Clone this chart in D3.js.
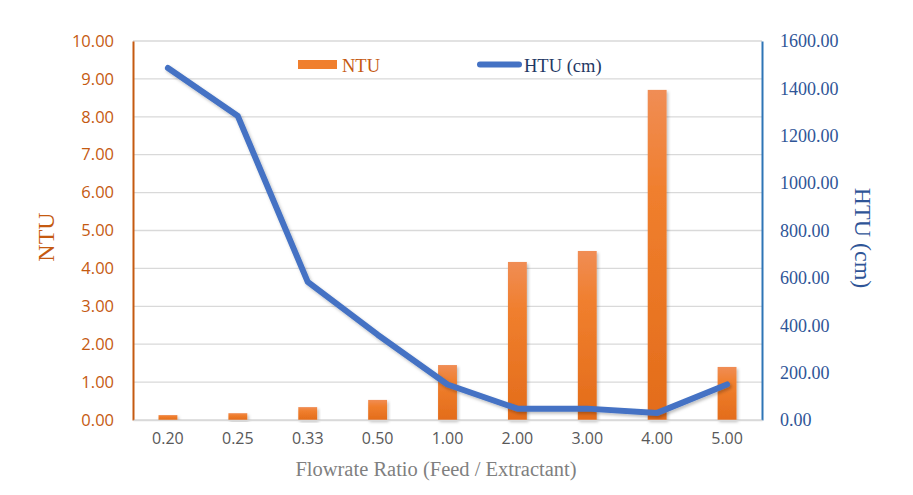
<!doctype html>
<html>
  <head>
    <script src="https://cdnjs.cloudflare.com/ajax/libs/d3/7.8.5/d3.min.js"></script>
    <style>
      body { margin: 0; background: #fff; }
      svg { display: block; }
    </style>
  </head>
  <body>
    <svg id="chart" width="913" height="495"></svg>
    <script>
      var ratios = ["0.20", "0.25", "0.33", "0.50", "1.00", "2.00", "3.00", "4.00", "5.00"];
      var ntu = [0.13, 0.18, 0.34, 0.53, 1.45, 4.17, 4.46, 8.71, 1.40];
      var htu = [1486, 1283, 583, 360, 150, 48, 48, 30, 150];
      var ntuTicks = [0, 1, 2, 3, 4, 5, 6, 7, 8, 9, 10];
      var htuTicks = [0, 200, 400, 600, 800, 1000, 1200, 1400, 1600];

      var plotLeft = 133, plotRight = 762, plotTop = 41, plotBottom = 420;
      var serif = "'Liberation Serif', 'Times New Roman', serif";
      var sans = "'Open Sans', 'Liberation Sans', sans-serif";

      var svg = d3.select("#chart");

      var defs = svg.append("defs");
      var grad = defs.append("linearGradient")
        .attr("id", "barGrad").attr("x1", 0).attr("y1", 0).attr("x2", 0).attr("y2", 1);
      grad.append("stop").attr("offset", "0%").attr("stop-color", "#F08D55");
      grad.append("stop").attr("offset", "30%").attr("stop-color", "#F07F2E");
      grad.append("stop").attr("offset", "100%").attr("stop-color", "#E36C1A");
      var shadow = defs.append("filter").attr("id", "shadow")
        .attr("x", "-20%").attr("y", "-20%").attr("width", "140%").attr("height", "140%");
      shadow.append("feDropShadow").attr("dx", 1.5).attr("dy", 2).attr("stdDeviation", 1.5)
        .attr("flood-color", "#000").attr("flood-opacity", 0.25);

      var x = d3.scaleBand().domain(ratios).range([plotLeft, plotRight]);
      var yL = d3.scaleLinear().domain([0, 10]).range([plotBottom, plotTop]);
      var yR = d3.scaleLinear().domain([0, 1600]).range([plotBottom, plotTop]);

      // gridlines
      svg.append("g").selectAll("line").data(ntuTicks).enter().append("line")
        .attr("x1", plotLeft).attr("x2", plotRight)
        .attr("y1", d => yL(d)).attr("y2", d => yL(d))
        .attr("stroke", "#D9D9D9").attr("stroke-width", 1.3);

      // bars
      var bw = x.bandwidth() * 0.27;
      svg.append("g").selectAll("rect").data(ntu).enter().append("rect")
        .attr("x", (d, i) => x(ratios[i]) + x.bandwidth() / 2 - bw / 2)
        .attr("width", bw)
        .attr("y", d => yL(d))
        .attr("height", d => yL(0) - yL(d))
        .attr("fill", "url(#barGrad)")
        .attr("filter", "url(#shadow)");

      // line
      var line = d3.line()
        .x((d, i) => x(ratios[i]) + x.bandwidth() / 2)
        .y(d => yR(d));
      svg.append("path").datum(htu)
        .attr("d", line)
        .attr("fill", "none")
        .attr("stroke", "#4472C4")
        .attr("stroke-width", 6)
        .attr("stroke-linejoin", "round")
        .attr("stroke-linecap", "round")
        .attr("filter", "url(#shadow)");

      // axes
      var axL = svg.append("g").attr("transform", "translate(" + plotLeft + ",0)")
        .call(d3.axisLeft(yL).tickValues(ntuTicks).tickFormat(d3.format(".2f")).tickSize(0).tickPadding(19));
      axL.select(".domain").attr("stroke", "#C55A11").attr("stroke-width", 2);
      axL.selectAll("text").attr("fill", "#C55A11").style("font-family", sans).style("font-size", "16.5px");

      var axR = svg.append("g").attr("transform", "translate(" + plotRight + ",0)")
        .call(d3.axisRight(yR).tickValues(htuTicks).tickFormat(d3.format(".2f")).tickSize(0).tickPadding(18));
      axR.select(".domain").attr("stroke", "#2E75B6").attr("stroke-width", 2);
      axR.selectAll("text").attr("fill", "#2F5597").style("font-family", serif).style("font-size", "18px");

      var axB = svg.append("g").attr("transform", "translate(0," + plotBottom + ")")
        .call(d3.axisBottom(x).tickSize(0).tickPadding(13));
      axB.select(".domain").attr("stroke", "#D9D9D9").attr("stroke-width", 1.3);
      axB.selectAll("text").attr("fill", "#595959").style("font-family", sans).style("font-size", "16px");

      // axis titles
      svg.append("text")
        .attr("transform", "translate(54,237) rotate(-90)")
        .attr("text-anchor", "middle")
        .style("font-family", serif).style("font-size", "24px")
        .attr("fill", "#C55A11").text("NTU");
      svg.append("text")
        .attr("transform", "translate(855,238) rotate(90)")
        .attr("text-anchor", "middle")
        .style("font-family", serif).style("font-size", "24px")
        .attr("fill", "#2F5597").text("HTU (cm)");
      svg.append("text")
        .attr("x", 436).attr("y", 476)
        .attr("text-anchor", "middle")
        .style("font-family", serif).style("font-size", "20.5px")
        .attr("fill", "#7F7F7F").text("Flowrate Ratio (Feed / Extractant)");

      // legend
      var lg = svg.append("g");
      lg.append("rect").attr("x", 298).attr("y", 60).attr("width", 39).attr("height", 9).attr("fill", "#F07F2E");
      lg.append("text").attr("x", 342).attr("y", 72)
        .style("font-family", serif).style("font-size", "18.5px")
        .attr("fill", "#C55A11").text("NTU");
      lg.append("line").attr("x1", 480).attr("x2", 519).attr("y1", 64.5).attr("y2", 64.5)
        .attr("stroke", "#4472C4").attr("stroke-width", 6).attr("stroke-linecap", "round");
      lg.append("text").attr("x", 524).attr("y", 72)
        .style("font-family", serif).style("font-size", "18.5px")
        .attr("fill", "#1F3864").text("HTU (cm)");
    </script>
  </body>
</html>
